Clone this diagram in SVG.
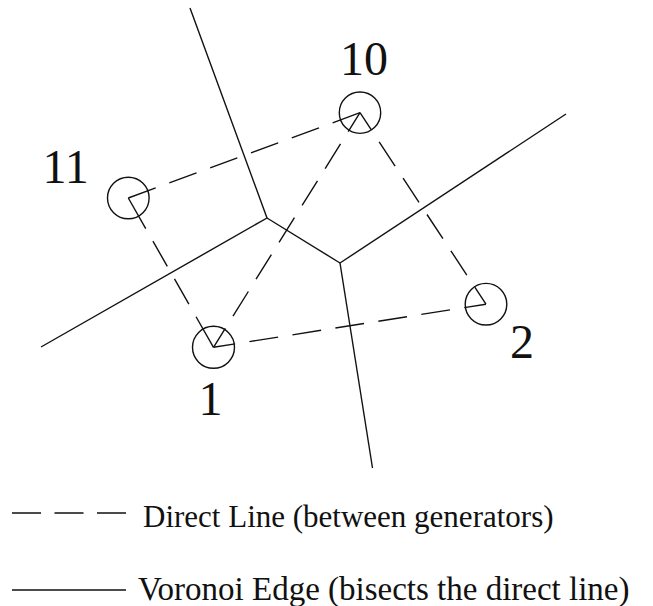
<svg xmlns="http://www.w3.org/2000/svg" width="653" height="606" viewBox="0 0 653 606">
<style>
.edge{stroke:#111;stroke-width:1.4;fill:none}
.dash{stroke:#111;stroke-width:1.4;fill:none;stroke-linecap:butt}
.gen{stroke:#111;stroke-width:1.4;fill:none}
.lbl{font-family:"Liberation Serif","Times New Roman",serif;font-size:48px;fill:#111}
.leg{font-family:"Liberation Serif","Times New Roman",serif;fill:#111}
</style>
<rect width="653" height="606" fill="#fff"/>
<g id="voronoi-edges">
<polyline class="edge" points="190,8 267,218 41,347"/>
<line class="edge" x1="267" y1="218" x2="340" y2="263"/>
<line class="edge" x1="340" y1="263" x2="566" y2="114"/>
<line class="edge" x1="340" y1="263" x2="372.5" y2="468"/>
</g>
<g id="direct-lines">
<line class="dash" x1="128.3" y1="198" x2="360" y2="112.7" stroke-dasharray="29.2 14.5 29 14.5 29 14.5 29 14.5 29 14.5 29.2 50"/>
<line class="dash" x1="213.5" y1="347.3" x2="486" y2="304.2" stroke-dasharray="21.9 14.5 29 14.5 29 14.5 29 14.5 29 14.5 29 14.5 21.9 50"/>
<line class="dash" x1="128.3" y1="198" x2="213.5" y2="347.3" stroke-dasharray="35.2 14.5 29 14.5 29 14.5 35.2 50"/>
<line class="dash" x1="360" y1="112.7" x2="213.5" y2="347.3" stroke-dasharray="22.3 14.5 29 14.5 29 14.5 29 14.5 29 14.5 29 14.5 22.3 50"/>
<line class="dash" x1="360" y1="112.7" x2="486" y2="304.2" stroke-dasharray="20.35 14.5 29 14.5 29 14.5 29 14.5 29 14.5 20.35 50"/>
</g>
<g id="g10">
<circle class="gen" cx="360" cy="112.7" r="20.7"/>
<text class="lbl" x="340" y="75">10</text>
</g>
<g id="g11">
<circle class="gen" cx="128.3" cy="198" r="20.8"/>
<text class="lbl" x="42.5" y="183">11</text>
</g>
<g id="g1">
<circle class="gen" cx="213.5" cy="347.3" r="21"/>
<text class="lbl" x="198.5" y="415">1</text>
</g>
<g id="g2">
<circle class="gen" cx="486" cy="304.2" r="20.8"/>
<text class="lbl" x="510" y="358">2</text>
</g>
<g id="legend">
<line class="dash" x1="12" y1="513" x2="126" y2="513" stroke-dasharray="29 13.5"/>
<text class="leg" x="143" y="527" font-size="31">Direct Line (between generators)</text>
<line class="edge" x1="12" y1="590" x2="126" y2="590"/>
<text class="leg" x="138" y="600" font-size="33">Voronoi Edge (bisects the direct line)</text>
</g>
</svg>
